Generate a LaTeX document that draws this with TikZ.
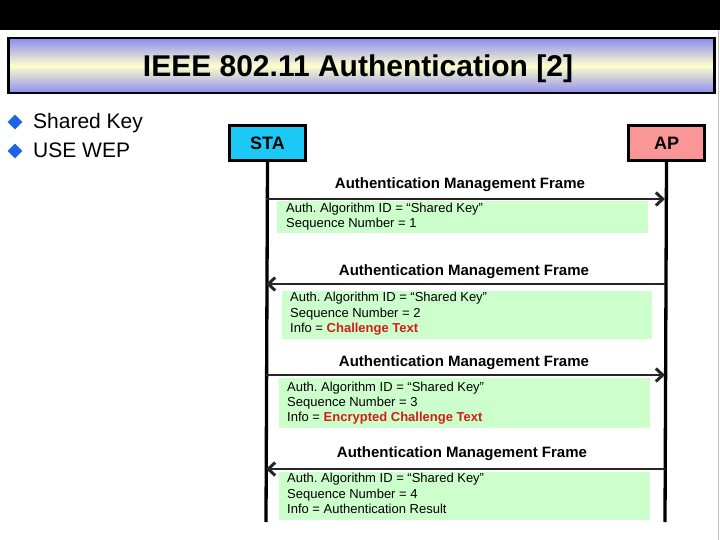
\documentclass[tikz,border=0pt]{standalone}
\usepackage{fontspec}
\setmainfont{Liberation Sans}
\usetikzlibrary{arrows.meta,shapes.geometric}
\definecolor{stacol}{RGB}{28,200,245}
\definecolor{apcol}{RGB}{250,150,150}
\definecolor{msggreen}{RGB}{204,255,204}
\definecolor{titleblue}{RGB}{140,140,240}
\definecolor{titleyellow}{RGB}{255,255,204}
\definecolor{bulletblue}{RGB}{30,100,230}
\definecolor{chalred}{RGB}{210,30,20}
\begin{document}
\frenchspacing
\begin{tikzpicture}[x=1pt,y=-1pt,
  entity/.style={draw=black, line width=3pt, minimum width=76pt, minimum height=35pt,
    inner sep=0pt, font=\fontsize{18}{20}\selectfont\bfseries},
  lifeline/.style={line width=3.3pt, black},
  msgarrow/.style={line width=2.2pt, black!85, -{Straight Barb[length=7pt,width=13pt,line width=3pt]}},
  msglabel/.style={anchor=base, font=\fontsize{15}{17}\selectfont\bfseries},
  greenbox/.style={fill=msggreen, anchor=north west, inner sep=0pt},
  boxline/.style={anchor=base west, inner sep=0pt, font=\fontsize{13}{15}\selectfont},
  bullet/.style={diamond, fill=bulletblue, minimum width=15pt, minimum height=15pt, inner sep=0pt},
  bullettext/.style={anchor=base west, inner sep=0pt, font=\fontsize{21}{25}\selectfont}]
\useasboundingbox (0,0) rectangle (720,540);
\fill[white] (0,0) rectangle (720,540);
\fill[black] (0,0) rectangle (720,30);
\draw[black!25, line width=1pt] (718.5,30) -- (718.5,540);

% title
\node[draw=black, line width=2.5pt, top color=titleblue, bottom color=titleblue,
  middle color=titleyellow, minimum width=706pt, minimum height=55pt,
  anchor=north west, inner sep=0pt] (titlebox) at (7,37) {};
\node[anchor=base, inner sep=0pt, font=\fontsize{30}{34}\selectfont\bfseries] (title)
  at (358,77) {IEEE 802.11 Authentication [2]};

% bullets
\node[bullet] (b1) at (15,122) {};
\node[bullettext] (t1) at (33,129) {Shared Key};
\node[bullet] (b2) at (15,151) {};
\node[bullettext] (t2) at (33,158) {USE WEP};

% entities
\node[entity, fill=stacol, anchor=north west] (sta) at (228,124) {STA};
\node[entity, fill=apcol, anchor=north west] (ap) at (627,124) {AP};
\coordinate (staend) at (266,522);
\coordinate (apend) at (665,522);
\draw[lifeline] (sta.south) -- (staend);
\draw[lifeline] (ap.south) -- (apend);

% message 1
\coordinate (s1) at (266,199);
\coordinate (a1) at (665,199);
\draw[msgarrow] (s1) -- (a1);
\node[msglabel] (l1) at (460,189) {Authentication Management Frame};
\node[greenbox, minimum width=371pt, minimum height=32pt] (g1) at (277,201) {};
\node[boxline] (g1a) at (286,212) {Auth. Algorithm ID = “Shared Key”};
\node[boxline] (g1b) at (286,228) {Sequence Number = 1};

% message 2
\coordinate (s2) at (266,284);
\coordinate (a2) at (665,284);
\draw[msgarrow] (a2) -- (s2);
\node[msglabel] (l2) at (464,275) {Authentication Management Frame};
\node[greenbox, minimum width=370pt, minimum height=48pt] (g2) at (282,291) {};
\node[boxline] (g2a) at (290,301) {Auth. Algorithm ID = “Shared Key”};
\node[boxline] (g2b) at (290,317) {Sequence Number = 2};
\node[boxline] (g2c) at (290,332) {Info = \textcolor{chalred}{\bfseries Challenge Text}};

% message 3
\coordinate (s3) at (266,375);
\coordinate (a3) at (665,375);
\draw[msgarrow] (s3) -- (a3);
\node[msglabel] (l3) at (464,366) {Authentication Management Frame};
\node[greenbox, minimum width=371pt, minimum height=50pt] (g3) at (279,378) {};
\node[boxline] (g3a) at (287,391) {Auth. Algorithm ID = “Shared Key”};
\node[boxline] (g3b) at (287,406) {Sequence Number = 3};
\node[boxline] (g3c) at (287,421) {Info = \textcolor{chalred}{\bfseries Encrypted Challenge Text}};

% message 4
\coordinate (s4) at (266,469);
\coordinate (a4) at (665,469);
\draw[msgarrow] (a4) -- (s4);
\node[msglabel] (l4) at (462,457) {Authentication Management Frame};
\node[greenbox, minimum width=371pt, minimum height=48pt] (g4) at (279,472) {};
\node[boxline] (g4a) at (287,482) {Auth. Algorithm ID = “Shared Key”};
\node[boxline] (g4b) at (287,498) {Sequence Number = 4};
\node[boxline] (g4c) at (287,513) {Info = Authentication Result};
\end{tikzpicture}
\end{document}
